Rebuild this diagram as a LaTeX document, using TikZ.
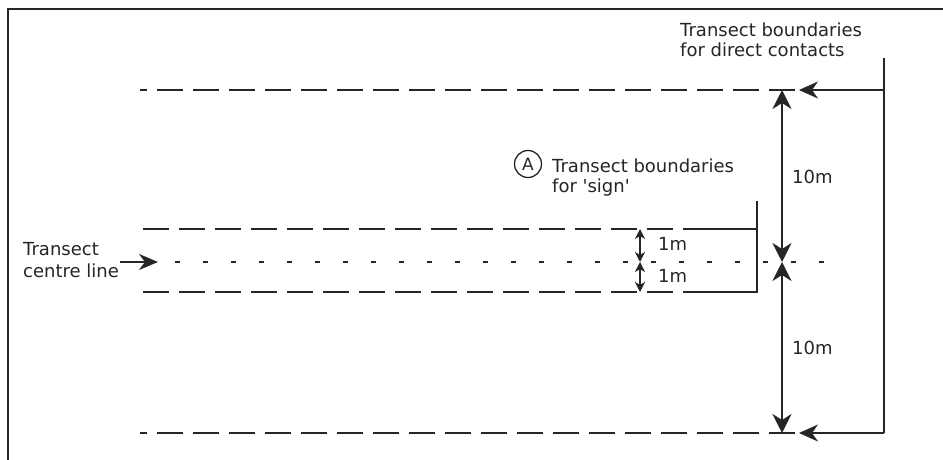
\documentclass[tikz,border=0pt]{standalone}
\usepackage{fontspec}
\setmainfont{DejaVu Sans}
\usetikzlibrary{arrows.meta}
\definecolor{ink}{HTML}{262626}
\begin{document}
\begin{tikzpicture}[x=1pt,y=-1pt,
  lbl/.style={inner sep=0pt, anchor=base west, font=\fontsize{18}{20}\selectfont, text=ink},
  ln/.style={draw=ink, line width=1.6pt},
  frame/.style={draw=ink, line width=2.8pt},
  outerdash/.style={ln, dash pattern=on 26pt off 10pt, dash phase=19pt},
  innerdash/.style={ln, dash pattern=on 26pt off 10pt, dash phase=0pt},
  centredash/.style={ln, dash pattern=on 5pt off 23pt},
  bighead/.tip={Stealth[length=19pt,width=19pt,inset=6pt]},
  sidehead/.tip={Stealth[length=19pt,width=17pt,inset=6pt]},
  smallhead/.tip={Stealth[length=10pt,width=10pt,inset=3pt]},
  sidetip/.style={-sidehead},
  smalltip/.style={smallhead-smallhead},
  bigboth/.style={bighead-bighead}
]
\useasboundingbox (0,0) rectangle (943,460);
\fill[white] (0,0) rectangle (943,460);

% frame (top and left edges)
\coordinate (fTR) at (943,9);
\coordinate (fTL) at (8,9);
\coordinate (fBL) at (8,460);
\draw[frame] (fTR) -- (fTL) -- (fBL);

% outer boundaries (10 m)
\coordinate (oT1) at (140,90);  \coordinate (oT2) at (795,90);
\coordinate (oB1) at (140,433); \coordinate (oB2) at (795,433);
\draw[outerdash] (oT1) -- (oT2);
\draw[outerdash] (oB1) -- (oB2);

% inner boundaries (1 m)
\coordinate (iT1) at (143,229); \coordinate (iT2) at (704,229); \coordinate (iT3) at (757,229);
\coordinate (iB1) at (143,292); \coordinate (iB2) at (704,292); \coordinate (iB3) at (757,292);
\coordinate (iV) at (757,201);
\draw[innerdash] (iT1) -- (iT2);
\draw[innerdash] (iB1) -- (iB2);
\draw[ln] (iT2) -- (iT3);
\draw[ln] (iV) -- (iB3) -- (iB2);

% centre line
\coordinate (c1) at (175,262); \coordinate (c2) at (830,262);
\draw[centredash] (c1) -- (c2);

% right bracket for direct contacts
\coordinate (rTop) at (884,58);
\coordinate (rT) at (884,90);
\coordinate (rB) at (884,433);
\coordinate (tipT) at (799,90);
\coordinate (tipB) at (799,433);
\draw[ln] (rTop) -- (rB);
\draw[ln, sidetip] (rT) -- (tipT);
\draw[ln, sidetip] (rB) -- (tipB);

% 10 m dimension arrows
\coordinate (dT) at (782,90);
\coordinate (dC) at (782,262);
\coordinate (dB) at (782,433);
\draw[ln, bigboth] (dT) -- (dC);
\draw[ln, bigboth] (dC) -- (dB);

% 1 m dimension arrows
\coordinate (sT) at (640,229);
\coordinate (sC) at (640,262);
\coordinate (sB) at (640,292);
\draw[ln, smalltip] (sT) -- (sC);
\draw[ln, smalltip] (sC) -- (sB);

% labels
\node[lbl] (dc1) at (680,37) {Transect boundaries};
\node[lbl] (dc2) at (680,57) {for direct contacts};

\node[draw=ink, line width=1.3pt, circle, minimum size=27pt, inner sep=0pt,
      font=\fontsize{17}{17}\selectfont, text=ink] (circA) at (528,164) {A};
\node[lbl] (sg1) at (552,172) {Transect boundaries};
\node[lbl] (sg2) at (552,192) {for \textquotesingle sign\textquotesingle};

\node[lbl] (cl1) at (23,255) {Transect};
\node[lbl] (cl2) at (23,277) {centre line};
\coordinate (clStart) at (120,262);
\coordinate (clTip) at (158,262);
\draw[ln, -{Stealth[length=19pt,width=16pt,inset=6pt]}] (clStart) -- (clTip);

\node[lbl] (m1) at (658,250) {1m};
\node[lbl] (m2) at (658,282) {1m};
\node[lbl] (ten1) at (792,183) {10m};
\node[lbl] (ten2) at (792,354) {10m};
\end{tikzpicture}
\end{document}
